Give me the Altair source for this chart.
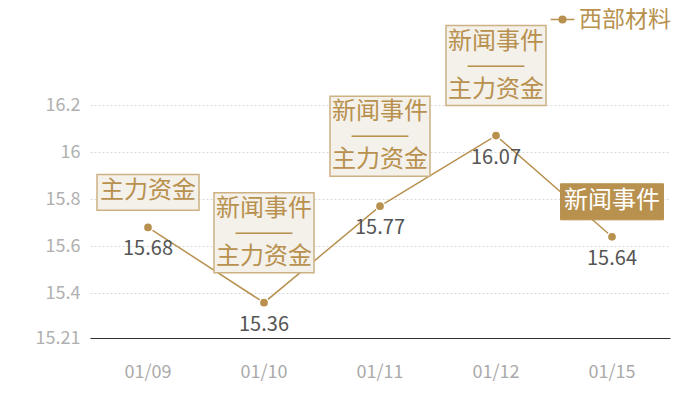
import altair as alt
import pandas as pd

dates = ["01/09", "01/10", "01/11", "01/12", "01/15"]
values = [15.68, 15.36, 15.77, 16.07, 15.64]
notes = ["主力资金", "新闻事件\n———\n主力资金", "新闻事件\n———\n主力资金",
         "新闻事件\n———\n主力资金", "新闻事件"]
note_kind = ["single", "triple", "triple", "triple", "filled"]
series = "西部材料"
y_ticks = [15.21, 15.4, 15.6, 15.8, 16.0, 16.2]

GOLD = "#b8914f"
FONT = "Noto Sans CJK SC"

df = pd.DataFrame({"date": dates, "value": values, "note": notes,
                   "kind": note_kind, "series": series})

x = alt.X("date:N", sort=dates, title=None, bandPosition=0.5,
          scale=alt.Scale(type="band", paddingInner=0, paddingOuter=0),
          axis=alt.Axis(labelAngle=0, labelColor="#aaaaaa", labelFontSize=18,
                        labelFont=FONT, labelPadding=25, ticks=False,
                        domainColor="#333333", domainWidth=1, grid=False))
y = alt.Y("value:Q", title=None,
          scale=alt.Scale(domain=[y_ticks[0], y_ticks[-1]], nice=False, zero=False),
          axis=alt.Axis(values=y_ticks, labelExpr="'' + datum.value",
                        labelColor="#b0b0b0", labelFontSize=18, labelFont=FONT,
                        labelPadding=10, ticks=False, domain=False,
                        grid=True, gridColor="#d8d8d8", gridDash=[2, 2]))

base = alt.Chart(df).encode(x=x, y=y)

legend_path = ("M-1.6,0L-0.45,0M0.45,0L1.6,0M-0.45,0A0.45,0.45 0 1,0 0.45,0"
               "A0.45,0.45 0 1,0 -0.45,0Z")

line = base.mark_line(strokeWidth=1.5, clip=False).encode(
    color=alt.Color("series:N", scale=alt.Scale(range=[GOLD]),
                    legend=alt.Legend(title=None, orient="none",
                                      legendX=461, legendY=-97,
                                      symbolType=legend_path, symbolSize=220,
                                      symbolStrokeWidth=1.5,
                                      symbolFillColor=GOLD,
                                      labelFont=FONT, labelFontSize=23,
                                      labelColor=GOLD, labelLimit=200,
                                      labelOffset=5))
)
points = base.mark_circle(size=85, opacity=1, color=GOLD, stroke="white",
                          strokeWidth=1.5, clip=False)

value_labels = base.mark_text(font=FONT, fontSize=20, color="#555555",
                              dy=22, baseline="middle").encode(
    text=alt.Text("value:Q", format=".2f"))

single_path = "M-1,-0.35L1,-0.35L1,0.35L-1,0.35Z"
triple_path = "M-1,-0.8L1,-0.8L1,0.8L-1,0.8Z"

box_single = base.transform_filter(alt.datum.kind == "single").mark_point(
    shape=single_path, size=10400, filled=True, fill="#f4f0ea", stroke="#cdb182",
    strokeWidth=1.5, opacity=1, yOffset=-35, clip=False)
box_triple = base.transform_filter(alt.datum.kind == "triple").mark_point(
    shape=triple_path, size=10000, filled=True, fill="#f4f0ea", stroke="#cdb182",
    strokeWidth=1.5, opacity=1, yOffset=-70, clip=False)
box_filled = base.transform_filter(alt.datum.kind == "filled").mark_point(
    shape=single_path, size=10600, filled=True, fill=GOLD, stroke=GOLD,
    strokeWidth=1, opacity=1, yOffset=-35, clip=False)

text_single = base.transform_filter(alt.datum.kind == "single").mark_text(
    font=FONT, fontSize=24, color=GOLD, baseline="middle", dy=-36).encode(
    text="note:N")
text_triple = base.transform_filter(alt.datum.kind == "triple").mark_text(
    font=FONT, fontSize=24, color=GOLD, baseline="middle", dy=-94,
    lineBreak="\n", lineHeight=24).encode(text="note:N")
text_filled = base.transform_filter(alt.datum.kind == "filled").mark_text(
    font=FONT, fontSize=24, color="white", baseline="middle", dy=-36).encode(
    text="note:N")

chart = alt.layer(
    line, points, value_labels,
    box_single, box_triple, box_filled,
    text_single, text_triple, text_filled
).properties(
    width=580, height=233,
    background="white",
    autosize=alt.AutoSizeParams(type="none"),
    padding={"left": 82, "top": 97, "right": 20, "bottom": 50},
).configure_view(strokeWidth=0, stroke="transparent")

chart.save("out.html", embed_options={"renderer": "svg", "actions": False})
